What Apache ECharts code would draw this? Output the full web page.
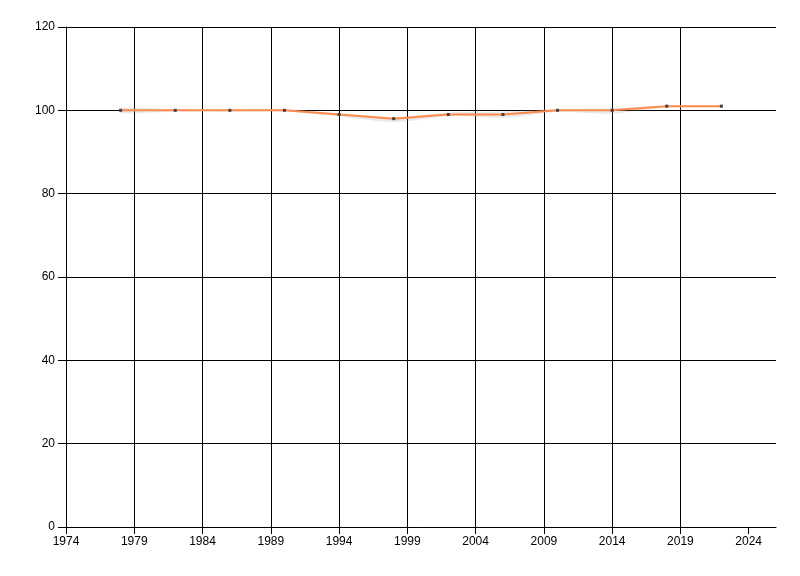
<!DOCTYPE html>
<html>
<head>
<meta charset="utf-8">
<script src="https://cdn.jsdelivr.net/npm/echarts@6/dist/echarts.min.js"></script>
<style>html,body{margin:0;padding:0;background:#fff}#c{width:800px;height:576px}</style>
</head>
<body>
<div id="c"></div>
<script>
const years = [1978, 1982, 1986, 1990, 1994, 1998, 2002, 2006, 2010, 2014, 2018, 2022];
const values = [100, 100, 100, 100, 99, 98, 99, 99, 100, 100, 101, 101];
const bandLower = [99.3, 99.7, 99.7, 99.7, 98.5, 97.2, 98.6, 98.2, 99.6, 99.2, 100.8, 100.9];
const bandUpper = [100.6, 100.3, 100.3, 100.3, 99.3, 98.4, 99.5, 99.7, 100.3, 100.5, 101.1, 101.1];
const xTickLabels = ['1974', '1979', '1984', '1989', '1994', '1999', '2004', '2009', '2014', '2019', '2024'];
const xMin = 1974, xMax = 2026, xStep = 5;
const yMin = 0, yMax = 120, yStep = 20;

const pts = (arr) => years.map((y, i) => [y - xMin, arr[i]]);
const tickVals = xTickLabels.map(s => Number(s) - xMin);
const splitColors = tickVals.map(() => '#000').concat(['rgba(0,0,0,0)']);

const chart = echarts.init(document.getElementById('c'), null, {renderer: 'canvas'});
const font = '"Liberation Sans", Arial, sans-serif';
chart.setOption({
  animation: false,
  backgroundColor: '#fff',
  grid: {left: 66, right: 24, top: 27, bottom: 49, containLabel: false},
  xAxis: {
    type: 'value', min: 0, max: xMax - xMin, interval: xStep,
    axisLine: {show: true, lineStyle: {color: '#000', width: 1}},
    axisTick: {show: true, length: 7, customValues: tickVals, lineStyle: {color: '#000'}},
    axisLabel: {show: true, customValues: tickVals, margin: 9, color: '#000', fontSize: 12, fontFamily: font,
      formatter: v => xTickLabels[tickVals.indexOf(v)] || ''},
    splitLine: {show: true, showMinLine: true, showMaxLine: false, lineStyle: {color: splitColors, width: 1}}
  },
  yAxis: {
    type: 'value', min: yMin, max: yMax, interval: yStep,
    axisLine: {show: true, lineStyle: {color: '#000', width: 1}},
    axisTick: {show: true, length: 8, lineStyle: {color: '#000'}},
    axisLabel: {show: true, margin: 11, color: '#000', fontSize: 12, fontFamily: font},
    splitLine: {show: true, showMinLine: false, lineStyle: {color: '#000', width: 1}}
  },
  series: [
    {type: 'custom', coordinateSystem: 'cartesian2d', z: 1, silent: true, clip: false,
      data: pts(values).slice(0, 1),
      renderItem: (params, api) => {
        const up = years.map((y, i) => api.coord([y - xMin, bandUpper[i]]));
        const lo = years.map((y, i) => api.coord([y - xMin, bandLower[i]])).reverse();
        return {type: 'polygon', shape: {points: up.concat(lo), smooth: 0.3},
          style: {fill: 'rgba(160,160,160,0.22)', stroke: 'none'}};
      }},
    {type: 'line', data: pts(values), symbol: 'rect', symbolSize: 3,
      itemStyle: {color: '#404040'}, lineStyle: {color: '#FF8A4C', width: 2}, z: 3}
  ]
});
</script>
</body>
</html>
